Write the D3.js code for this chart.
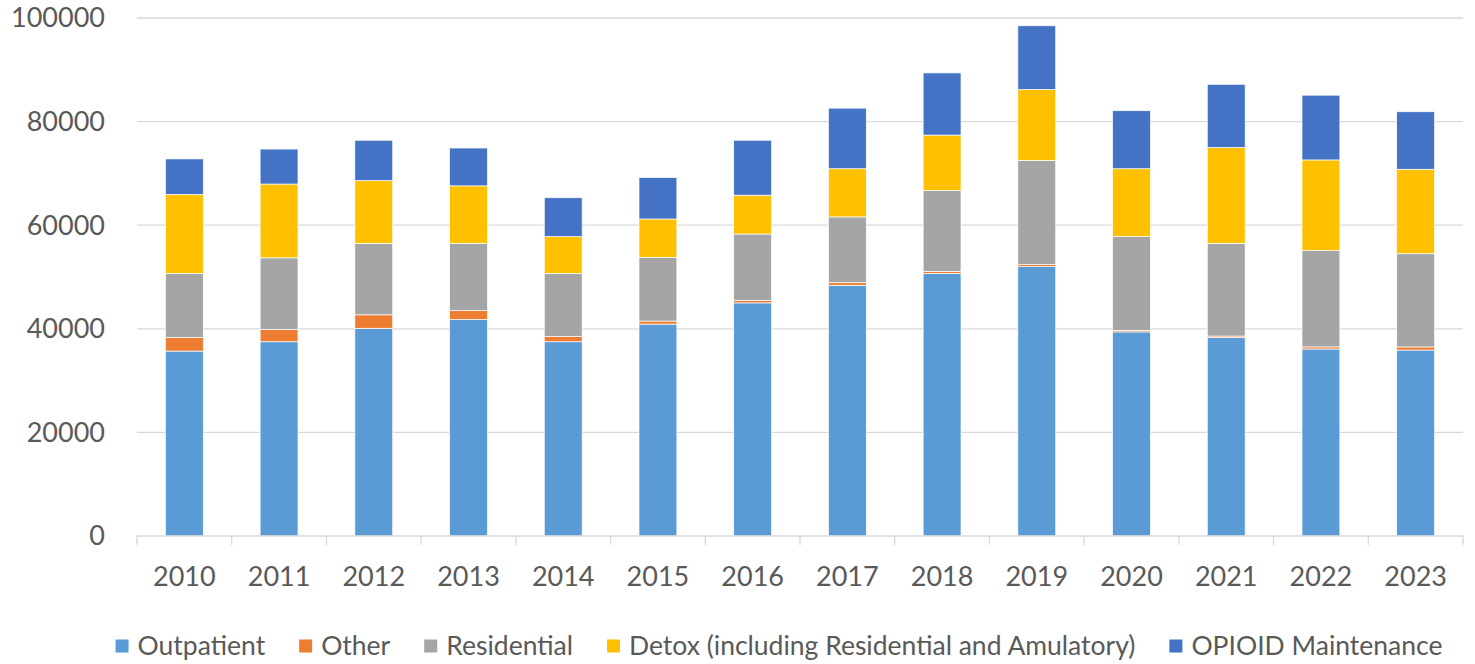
<!DOCTYPE html>
<html>
<head>
<meta charset="utf-8">
<script src="https://cdn.jsdelivr.net/npm/d3@7"></script>
<style>
  body { margin: 0; background: #fff; }
  text { font-family: Lato, "Open Sans", sans-serif; fill: #595959; }
</style>
</head>
<body>
<div id="chart-area"></div>
<script>
const years = ["2010", "2011", "2012", "2013", "2014", "2015", "2016",
    "2017", "2018", "2019", "2020", "2021", "2022", "2023"]

const outpatient  = [35700, 37500, 40100, 41800, 37500, 40900, 45000, 48400, 50700, 52000, 39400, 38300, 36100, 35900]
const other       = [2600, 2400, 2600, 1700, 1000, 600, 500, 500, 400, 400, 300, 300, 400, 600]
const residential = [12400, 13800, 13800, 13000, 12200, 12300, 12800, 12700, 15600, 20100, 18100, 17900, 18600, 18000]
const detox       = [15250, 14250, 12100, 11100, 7100, 7400, 7500, 9300, 10700, 13700, 13100, 18500, 17500, 16300]
const opioid      = [6850, 6750, 7800, 7300, 7500, 8000, 10600, 11700, 12000, 12300, 11200, 12200, 12500, 11100]

const seriesNames = ["Outpatient", "Other", "Residential",
    "Detox (including Residential and Amulatory)", "OPIOID Maintenance"]
const seriesValues = [outpatient, other, residential, detox, opioid]
const colours = ["#5B9BD5", "#ED7D31", "#A5A5A5", "#FFC000", "#4472C4"]
const yTicks = [0, 20000, 40000, 60000, 80000, 100000]

const MARGIN = { LEFT: 137, RIGHT: 12, TOP: 18, BOTTOM: 128 }
const W = 1475, H = 664
const WIDTH = W - MARGIN.LEFT - MARGIN.RIGHT
const HEIGHT = H - MARGIN.TOP - MARGIN.BOTTOM

const svg = d3.select("#chart-area").append("svg")
    .attr("width", W)
    .attr("height", H)

const g = svg.append("g")
    .attr("transform", `translate(${MARGIN.LEFT}, ${MARGIN.TOP})`)

// table for the stack
const table = years.map((yr, i) => {
    const row = { year: yr }
    seriesNames.forEach((s, j) => { row[s] = seriesValues[j][i] })
    return row
})
const stacked = d3.stack().keys(seriesNames)(table)

// Scales
const x = d3.scaleBand()
    .domain(years)
    .range([0, WIDTH])
    .paddingInner(0.6)
    .paddingOuter(0.3)

const xCat = d3.scaleBand()
    .domain(years)
    .range([0, WIDTH])

const y = d3.scaleLinear()
    .domain([0, 100000])
    .range([HEIGHT, 0])

// Gridlines
g.append("g")
    .selectAll("line")
    .data(yTicks.filter(t => t > 0))
    .enter().append("line")
    .attr("x1", 0)
    .attr("x2", WIDTH)
    .attr("y1", d => y(d))
    .attr("y2", d => y(d))
    .attr("stroke", "#d9d9d9")
    .attr("stroke-width", 1.3)

// Y labels
g.append("g")
    .selectAll("text")
    .data(yTicks)
    .enter().append("text")
    .attr("x", -32)
    .attr("y", d => y(d))
    .attr("dy", "0.35em")
    .attr("text-anchor", "end")
    .attr("font-size", "27px")
    .text(d => d)

// Bars
g.append("g")
    .selectAll("g")
    .data(stacked)
    .enter().append("g")
    .attr("fill", (d, i) => colours[i])
    .selectAll("rect")
    .data(d => d)
    .enter().append("rect")
    .attr("x", d => x(d.data.year))
    .attr("width", x.bandwidth())
    .attr("y", d => y(d[1]))
    .attr("height", d => y(d[0]) - y(d[1]))
    .attr("stroke", "#ffffff")
    .attr("stroke-width", 0.7)

// X axis
const xAxis = g.append("g")
    .attr("transform", `translate(0, ${HEIGHT})`)
xAxis.append("line")
    .attr("x1", 0).attr("x2", WIDTH)
    .attr("y1", 0).attr("y2", 0)
    .attr("stroke", "#d9d9d9")
    .attr("stroke-width", 1.3)
const tickPos = years.map(yr => xCat(yr)).concat([WIDTH])
xAxis.selectAll(".tick")
    .data(tickPos)
    .enter().append("line")
    .attr("x1", d => d).attr("x2", d => d)
    .attr("y1", 0).attr("y2", 9)
    .attr("stroke", "#d9d9d9")
    .attr("stroke-width", 1.3)
xAxis.selectAll(".lbl")
    .data(years)
    .enter().append("text")
    .attr("x", d => xCat(d) + xCat.bandwidth() / 2)
    .attr("y", 41)
    .attr("dy", "0.35em")
    .attr("text-anchor", "middle")
    .attr("font-size", "27px")
    .text(d => d)

// Legend
const legend = svg.append("g")
const items = legend.selectAll("g")
    .data(seriesNames)
    .enter().append("g")
items.append("rect")
    .attr("width", 13)
    .attr("height", 13)
    .attr("y", -6.5)
    .attr("fill", (d, i) => colours[i])
items.append("text")
    .attr("x", 22)
    .attr("dy", "0.35em")
    .attr("font-size", "26.5px")
    .text(d => d)

let cursor = 0
items.each(function () {
    const w = d3.select(this).select("text").node().getComputedTextLength()
    d3.select(this).attr("transform", `translate(${cursor}, 0)`)
    cursor += 22 + w + 34
})
const totalW = cursor - 34
legend.attr("transform", `translate(${779 - totalW / 2}, 646)`)
</script>
</body>
</html>
